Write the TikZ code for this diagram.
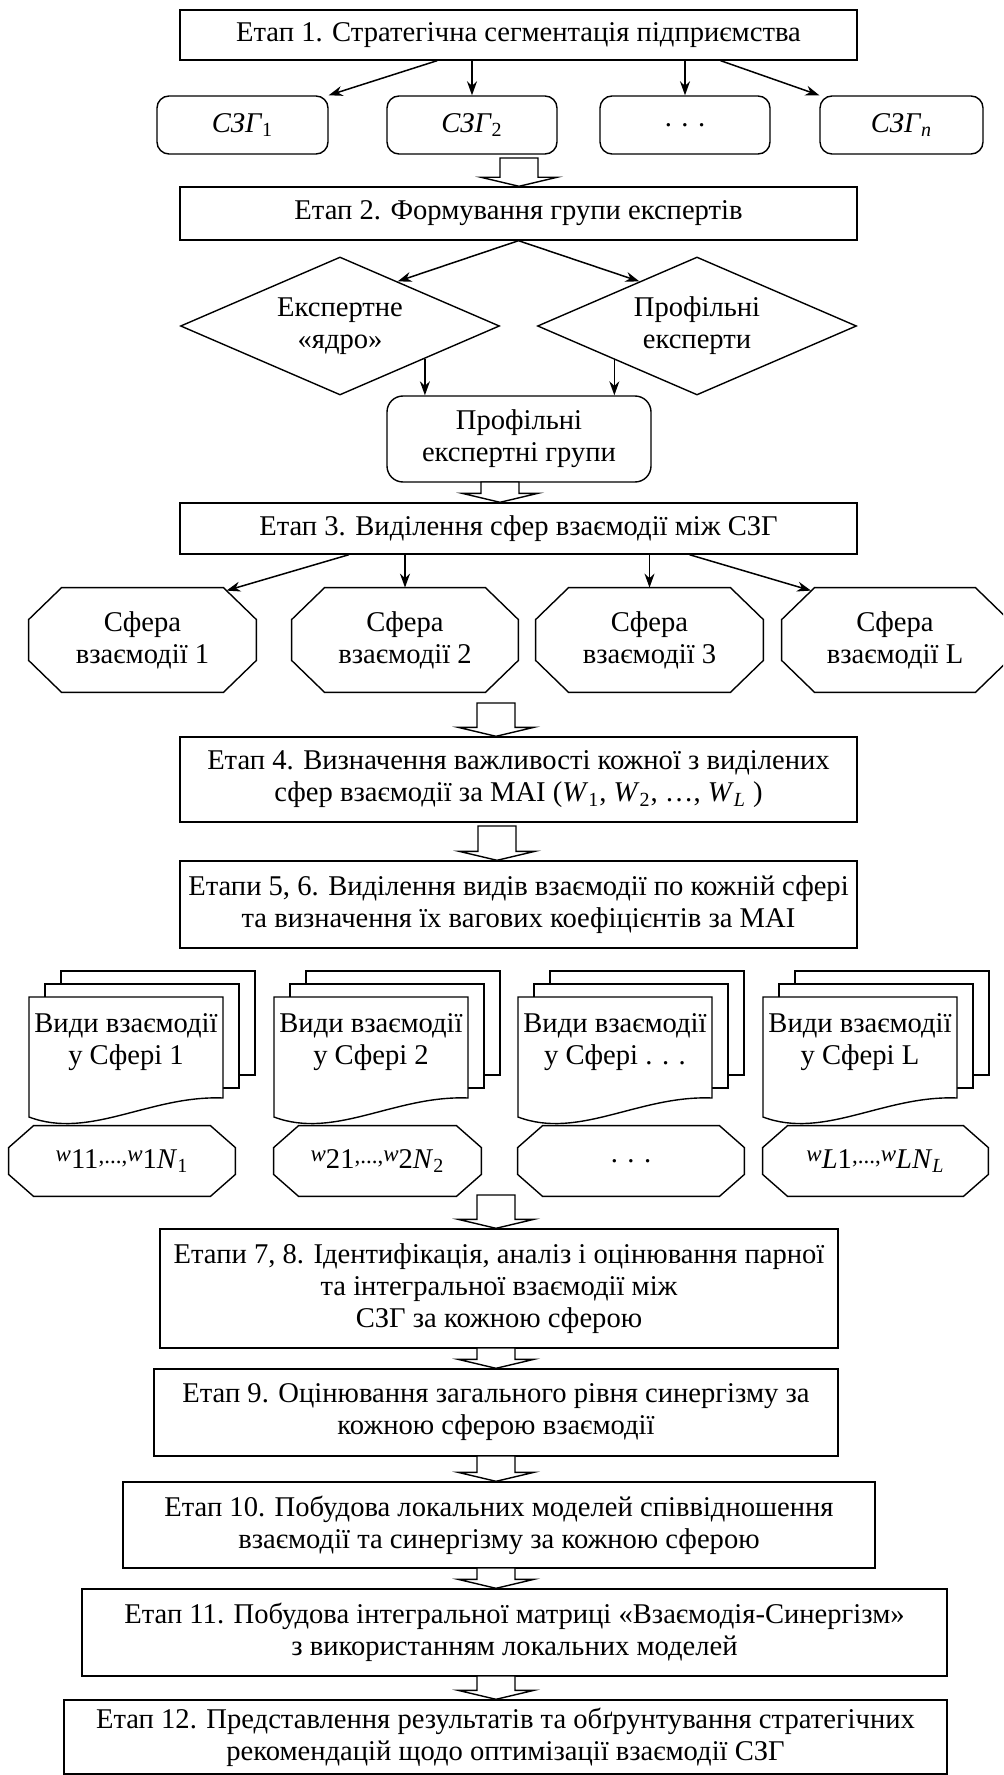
\documentclass[tikz,border=0pt]{standalone}
\usepackage{fontspec}
\setmainfont{Liberation Serif}
\usetikzlibrary{shapes.geometric,arrows.meta,calc}

% block arrow between two stages: #1 = top centre, #2 = tip
\newcommand\fatarrow[2]{%
  \path[fat] let \p1=(#1), \p2=(#2) in
    (\x1-9.5pt,\y1) -- (\x1+9.5pt,\y1) -- (\x1+9.5pt,\y2+4.5pt) -- (\x1+19pt,\y2+4.5pt)
    -- (\x1,\y2) -- (\x1-19pt,\y2+4.5pt) -- (\x1-9.5pt,\y2+4.5pt) -- cycle;}

% octagonal outline round a node: #1 node, #2 horizontal cut, #3 vertical cut
\newcommand\chamfer[3]{%
  \draw[line width=0.7pt]
    ($(#1.north west)+(#2,0)$) -- ($(#1.north east)+(-#2,0)$) --
    ($(#1.north east)+(0,#3)$) -- ($(#1.south east)+(0,-#3)$) --
    ($(#1.south east)+(-#2,0)$) -- ($(#1.south west)+(#2,0)$) --
    ($(#1.south west)+(0,-#3)$) -- ($(#1.north west)+(0,#3)$) -- cycle;}

% stack of three sheets: #1 horizontal shift, #2 node name, #3 caption
\newcommand\docstack[3]{%
  \begin{scope}[shift={(#1,0)}]
    \draw[page] (61,971) rectangle (255,1075);
    \draw[page] (45,984) rectangle (239,1088);
    \draw[page] (29,997) -- (223,997) -- (223,1098)
      .. controls (150,1095) and (90,1140) .. (29,1117) -- cycle;
    \node (#2) at (126,1042) {#3};
  \end{scope}}

% weight symbols
\newcommand\wsym{\raisebox{0.55ex}{\fontsize{11.5pt}{11.5pt}\selectfont\textit{w}}}
\newcommand\wdots{\raisebox{0.35ex}{\fontsize{11.5pt}{11.5pt}\selectfont,...,}}

\tikzset{
  every node/.style={font=\fontsize{14.3pt}{16pt}\selectfont, align=center, inner sep=0pt},
  stage/.style={draw, line width=0.7pt, fill=white},
  unit/.style={draw, line width=0.7pt, rounded corners=6pt},
  expert/.style={draw, line width=0.7pt, diamond, aspect=2.3},
  sphere/.style={rectangle, minimum height=52pt},
  weight/.style={rectangle, minimum height=35pt},
  link/.style={-{Stealth[length=7pt,width=5pt]}, line width=0.75pt},
  fat/.style={draw, line width=0.7pt, fill=white},
  page/.style={draw, line width=0.7pt, fill=white},
}

\begin{document}
\begin{tikzpicture}[x=0.5pt,y=-0.5pt]
\useasboundingbox (0,0) rectangle (1003,1775);
\fill[white] (0,0) rectangle (1003,1775);
\clip (0,0) rectangle (1003,1775);

% stage 1 and strategic business units
\node[stage, minimum width=338.5pt, minimum height=25pt] (b1) at (518.5,35)
  {Етап 1. Стратегічна сегментація підприємства};
\node[unit, minimum width=85.5pt, minimum height=29pt] (s1) at (242.5,125) {\textit{СЗГ}\textsubscript{1}};
\node[unit, minimum width=85pt, minimum height=29pt] (s2) at (472,125) {\textit{СЗГ}\textsubscript{2}};
\node[unit, minimum width=85pt, minimum height=29pt] (s3) at (685,125) {. . .};
\node[unit, minimum width=81.5pt, minimum height=29pt] (s4) at (901.5,125) {\textit{СЗГ}\textsubscript{\textit{n}}};
\draw[link] ($(b1.south west)!0.38!(b1.south east)$) -- (s1.north east);
\draw[link] (b1.south -| s2.north) -- (s2.north);
\draw[link] (b1.south -| s3.north) -- (s3.north);
\draw[link] ($(b1.south west)!0.798!(b1.south east)$) -- (s4.north west);

% stage 2 and experts
\node[stage, minimum width=338.5pt, minimum height=26.5pt] (b2) at (518.5,213.5)
  {Етап 2. Формування групи експертів};
\coordinate (f1) at (519,158);
\fatarrow{f1}{f1 |- b2.north}
\node[expert, minimum width=159.5pt, minimum height=69pt] (d1) at (340,326) {Експертне\\«ядро»};
\node[expert, minimum width=159.5pt, minimum height=69pt] (d2) at (697,326) {Профільні\\експерти};
\draw[link] (b2.south) -- ($(d1.north)!0.36!(d1.east)$);
\draw[link] (b2.south) -- ($(d2.north)!0.36!(d2.west)$);
\node[unit, rounded corners=8pt, minimum width=132pt, minimum height=43pt] (pg) at (519,439)
  {Профільні\\експертні групи};
\coordinate (d1o) at ($(d1.south)!0.53!(d1.east)$);
\coordinate (d2o) at ($(d2.south)!0.516!(d2.west)$);
\draw[link] (d1o) -- (d1o |- pg.north);
\draw[link] (d2o) -- (d2o |- pg.north);

% stage 3 and spheres of interaction
\node[stage, minimum width=338.5pt, minimum height=25.5pt] (b3) at (518.5,528.5)
  {Етап 3. Виділення сфер взаємодії між СЗГ};
\coordinate (f2) at (500,482);
\fatarrow{f2}{f2 |- b3.north}
\node[sphere, minimum width=113.5pt] (o1) at (142.5,640) {Сфера\\взаємодії 1};
\node[sphere, minimum width=113pt] (o2) at (405,640) {Сфера\\взаємодії 2};
\node[sphere, minimum width=113.5pt] (o3) at (649.5,640) {Сфера\\взаємодії 3};
\node[sphere, minimum width=113pt] (o4) at (895,640) {Сфера\\взаємодії L};
\foreach \o in {o1,o2,o3,o4} {\chamfer{\o}{33}{32}}
\draw[link] ($(b3.south west)!0.25!(b3.south east)$) -- ($(o1.north)+(84,3)$);
\draw[link] (b3.south -| o2.north) -- (o2.north);
\draw[link] (b3.south -| o3.north) -- (o3.north);
\draw[link] ($(b3.south west)!0.752!(b3.south east)$) -- ($(o4.north)+(-84,3)$);

% stages 4, 5-6
\node[stage, minimum width=338.5pt, minimum height=42.5pt] (b4) at (518.5,779.5)
  {Етап 4. Визначення важливості кожної з виділених\\сфер взаємодії за МАІ (\textit{W}\textsubscript{1}, \textit{W}\textsubscript{2}, …, \textit{W}\textsubscript{\textit{L}} )};
\coordinate (f3) at (496,703);
\fatarrow{f3}{f3 |- b4.north}
\node[stage, minimum width=338.5pt, minimum height=43.5pt] (b56) at (518.5,904.5)
  {Етапи 5, 6. Виділення видів взаємодії по кожній сфері\\та визначення їх вагових коефіцієнтів за МАІ};
\coordinate (f4) at (497,826);
\fatarrow{f4}{f4 |- b56.north}

% kinds of interaction in each sphere and their weights
\docstack{0}{k1}{Види взаємодії\\у Сфері 1}
\docstack{245}{k2}{Види взаємодії\\у Сфері 2}
\docstack{489}{k3}{Види взаємодії\\у Сфері . . .}
\docstack{734}{k4}{Види взаємодії\\у Сфері L}
\node[weight, minimum width=113pt] (w1) at (122,1161)
  {\wsym11\wdots\wsym1\textit{N}\textsubscript{1}};
\node[weight, minimum width=103.5pt] (w2) at (377.5,1161)
  {\wsym21\wdots\wsym2\textit{N}\textsubscript{2}};
\node[weight, minimum width=113pt] (w3) at (631,1161) {. . .};
\node[weight, minimum width=112.5pt] (w4) at (875.5,1161)
  {\wsym\textit{L}1\wdots\wsym\textit{LN}\textsubscript{\textit{L}}};
\foreach \w in {w1,w2,w3,w4} {\chamfer{\w}{25}{22}}

% stages 7-12
\node[stage, minimum width=339pt, minimum height=59.5pt] (b78) at (499,1288.5)
  {Етапи 7, 8. Ідентифікація, аналіз і оцінювання парної\\та інтегральної взаємодії між\\СЗГ за кожною сферою};
\coordinate (f5) at (496,1195);
\fatarrow{f5}{f5 |- b78.north}
\node[stage, minimum width=342pt, minimum height=43.5pt] (b9) at (496,1412.5)
  {Етап 9. Оцінювання загального рівня синергізму за\\кожною сферою взаємодії};
\coordinate (f6) at (496,1348);
\fatarrow{f6}{f6 |- b9.north}
\node[stage, minimum width=376pt, minimum height=43pt] (b10) at (499,1525)
  {Етап 10. Побудова локальних моделей співвідношення\\взаємодії та синергізму за кожною сферою};
\coordinate (f7) at (496,1456);
\fatarrow{f7}{f7 |- b10.north}
\node[stage, minimum width=432.5pt, minimum height=43.5pt] (b11) at (514.5,1632.5)
  {Етап 11. Побудова інтегральної матриці «Взаємодія-Синергізм»\\з використанням локальних моделей};
\coordinate (f8) at (496,1568);
\fatarrow{f8}{f8 |- b11.north}
\node[stage, minimum width=441.5pt, minimum height=37pt] (b12) at (505.5,1737)
  {Етап 12. Представлення результатів та обґрунтування стратегічних\\рекомендацій щодо оптимізації взаємодії СЗГ};
\coordinate (f9) at (496,1676);
\fatarrow{f9}{f9 |- b12.north}
\end{tikzpicture}
\end{document}
